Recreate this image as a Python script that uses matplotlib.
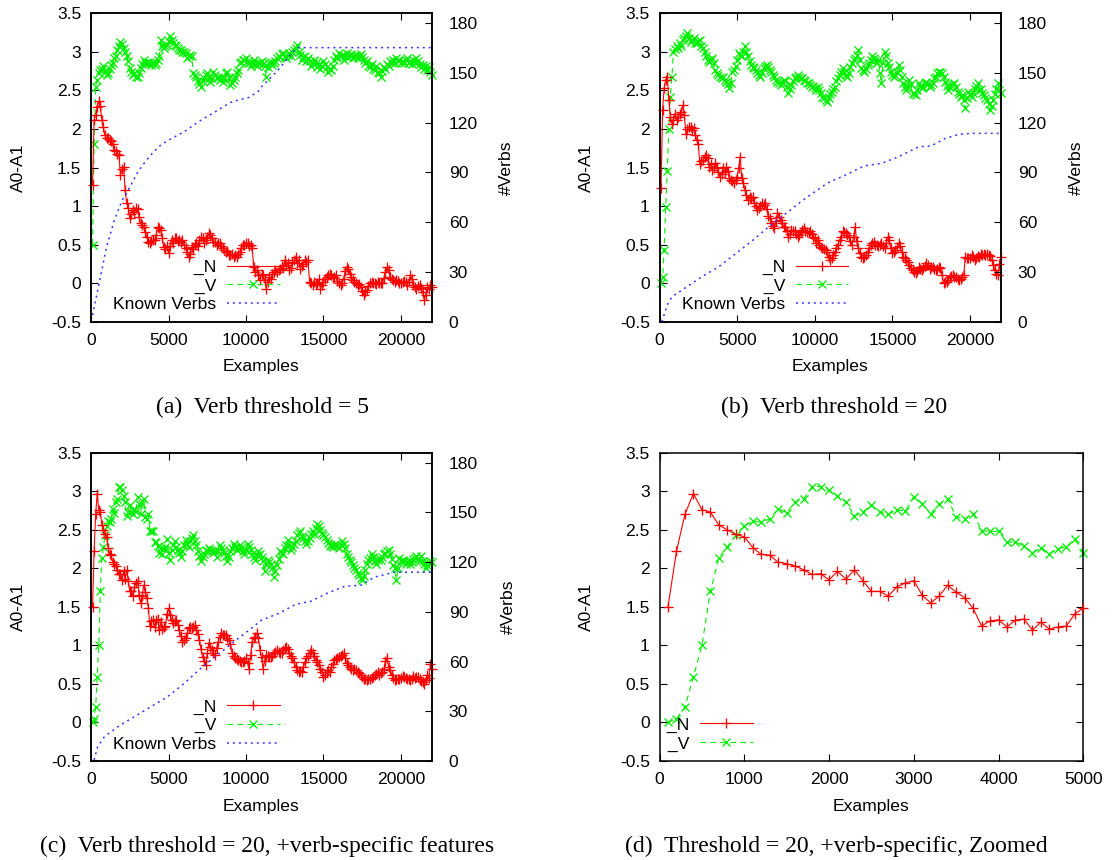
import numpy as np
import matplotlib
matplotlib.use("Agg")
import matplotlib.pyplot as plt
from matplotlib.ticker import FixedLocator, FixedFormatter

plt.rcParams['font.family'] = ['Liberation Sans', 'DejaVu Sans']

# ---------------- data ----------------
examples = np.arange(100, 22001, 100)

a_n = [1.27, 2.12, 2.18, 2.29, 2.36, 2.30, 2.12, 2.02, 1.92, 1.88,
       1.88, 1.86, 1.84, 1.80, 1.73, 1.72, 1.68, 1.66, 1.40, 1.48,
       1.51, 1.21, 1.04, 0.98, 0.84, 0.90, 0.95, 0.92, 0.98, 0.96,
       0.86, 0.78, 0.76, 0.73, 0.66, 0.60, 0.54, 0.52, 0.55, 0.56,
       0.56, 0.62, 0.73, 0.72, 0.69, 0.58, 0.47, 0.44, 0.48, 0.39,
       0.48, 0.56, 0.52, 0.58, 0.58, 0.55, 0.56, 0.54, 0.56, 0.50,
       0.45, 0.40, 0.34, 0.38, 0.47, 0.44, 0.50, 0.52, 0.48, 0.56,
       0.60, 0.58, 0.52, 0.56, 0.60, 0.65, 0.62, 0.58, 0.54, 0.54,
       0.50, 0.52, 0.52, 0.48, 0.45, 0.43, 0.40, 0.42, 0.36, 0.36,
       0.38, 0.34, 0.36, 0.34, 0.38, 0.41, 0.45, 0.49, 0.50, 0.52,
       0.52, 0.48, 0.50, 0.45, 0.21, 0.15, 0.17, 0.10, 0.04, 0.12,
       0.10, 0.04, -0.07, 0.02, 0.08, 0.06, 0.12, 0.14, 0.17, 0.15,
       0.17, 0.18, 0.22, 0.20, 0.30, 0.24, 0.26, 0.17, 0.20, 0.28,
       0.30, 0.34, 0.26, 0.30, 0.19, 0.22, 0.25, 0.30, 0.28, 0.30,
       0.02, 0.00, -0.02, 0.02, -0.01, 0.00, 0.05, -0.07, -0.03, 0.02,
       0.05, 0.08, 0.10, 0.12, 0.10, 0.07, 0.08, 0.10, 0.03, 0.00,
       -0.03, 0.00, 0.06, 0.16, 0.21, 0.19, 0.12, 0.08, 0.04, 0.02,
       0.00, -0.03, -0.01, -0.05, -0.10, -0.16, -0.12, -0.09, -0.04, 0.00,
       0.02, 0.00, 0.00, -0.01, 0.02, 0.00, 0.00, 0.00, 0.07, 0.14,
       0.21, 0.17, 0.08, 0.06, 0.04, 0.02, 0.04, 0.03, 0.00, 0.00,
       0.01, 0.03, 0.02, -0.02, 0.02, 0.10, 0.06, -0.02, -0.05, -0.08,
       -0.04, -0.02, -0.06, -0.12, -0.22, -0.15, -0.05, -0.08, -0.03, -0.05]

a_v = [0.50, 1.81, 2.54, 2.64, 2.72, 2.76, 2.78, 2.81, 2.74, 2.70,
       2.72, 2.78, 2.83, 2.86, 2.92, 2.95, 3.02, 3.08, 3.13, 3.10,
       3.05, 3.00, 2.94, 2.88, 2.79, 2.74, 2.70, 2.72, 2.68, 2.68,
       2.72, 2.79, 2.84, 2.89, 2.85, 2.85, 2.87, 2.86, 2.83, 2.85,
       2.83, 2.86, 2.89, 2.95, 3.15, 3.08, 3.05, 3.07, 3.09, 3.14,
       3.20, 3.15, 3.11, 3.09, 3.07, 3.05, 3.03, 3.02, 3.00, 3.00,
       2.98, 2.92, 2.95, 2.96, 2.94, 2.72, 2.70, 2.68, 2.62, 2.58,
       2.55, 2.62, 2.66, 2.70, 2.72, 2.66, 2.61, 2.66, 2.74, 2.70,
       2.66, 2.68, 2.64, 2.68, 2.61, 2.66, 2.72, 2.74, 2.66, 2.57,
       2.60, 2.64, 2.68, 2.72, 2.76, 2.85, 2.87, 2.89, 2.90, 2.92,
       2.88, 2.86, 2.82, 2.85, 2.89, 2.84, 2.82, 2.86, 2.85, 2.88,
       2.84, 2.82, 2.68, 2.80, 2.85, 2.87, 2.83, 2.86, 2.88, 2.92,
       2.95, 2.93, 2.97, 2.99, 2.95, 2.92, 2.96, 2.98, 2.94, 3.00,
       3.02, 3.05, 3.09, 3.00, 2.96, 2.90, 2.93, 2.95, 2.88, 2.92,
       2.88, 2.82, 2.85, 2.90, 2.86, 2.80, 2.84, 2.78, 2.82, 2.88,
       2.84, 2.80, 2.74, 2.78, 2.76, 2.82, 2.90, 2.95, 2.92, 2.98,
       2.94, 2.96, 2.90, 2.94, 2.98, 2.93, 2.95, 2.97, 2.92, 2.95,
       2.96, 2.92, 2.94, 2.97, 2.93, 2.90, 2.85, 2.88, 2.82, 2.80,
       2.84, 2.78, 2.76, 2.82, 2.74, 2.72, 2.68, 2.75, 2.80, 2.78,
       2.84, 2.82, 2.88, 2.85, 2.90, 2.86, 2.92, 2.88, 2.90, 2.86,
       2.88, 2.85, 2.90, 2.92, 2.86, 2.88, 2.84, 2.89, 2.86, 2.92,
       2.88, 2.84, 2.80, 2.83, 2.78, 2.82, 2.76, 2.80, 2.74, 2.70]

b_n = [1.23, 2.25, 2.53, 2.64, 2.68, 2.38, 2.16, 2.07, 2.12, 2.20,
       2.12, 2.16, 2.20, 2.22, 2.31, 2.18, 1.94, 2.00, 2.03, 2.03,
       1.99, 2.01, 1.92, 1.86, 1.80, 1.55, 1.58, 1.60, 1.64, 1.66,
       1.62, 1.51, 1.55, 1.47, 1.50, 1.56, 1.51, 1.44, 1.38, 1.42,
       1.49, 1.44, 1.51, 1.46, 1.36, 1.34, 1.32, 1.30, 1.34, 1.38,
       1.50, 1.64, 1.36, 1.30, 1.21, 1.14, 1.08, 1.12, 1.10, 1.12,
       1.04, 1.00, 0.95, 0.98, 1.00, 1.04, 1.02, 1.04, 0.96, 0.87,
       0.84, 0.78, 0.74, 0.71, 0.80, 0.91, 0.86, 0.82, 0.78, 0.73,
       0.73, 0.68, 0.60, 0.64, 0.69, 0.68, 0.67, 0.64, 0.60, 0.62,
       0.66, 0.69, 0.72, 0.67, 0.66, 0.65, 0.68, 0.64, 0.60, 0.58,
       0.52, 0.56, 0.49, 0.47, 0.45, 0.44, 0.43, 0.40, 0.34, 0.30,
       0.33, 0.36, 0.40, 0.45, 0.50, 0.56, 0.60, 0.67, 0.66, 0.65,
       0.63, 0.60, 0.55, 0.49, 0.60, 0.73, 0.55, 0.45, 0.39, 0.34,
       0.32, 0.34, 0.36, 0.40, 0.45, 0.49, 0.52, 0.54, 0.50, 0.49,
       0.48, 0.50, 0.52, 0.48, 0.45, 0.52, 0.60, 0.56, 0.45, 0.39,
       0.41, 0.43, 0.47, 0.52, 0.48, 0.40, 0.34, 0.32, 0.30, 0.28,
       0.24, 0.20, 0.17, 0.15, 0.13, 0.16, 0.21, 0.19, 0.17, 0.20,
       0.22, 0.26, 0.23, 0.19, 0.21, 0.21, 0.19, 0.17, 0.19, 0.21,
       0.20, 0.10, 0.00, 0.01, 0.02, 0.04, 0.08, 0.09, 0.10, 0.08,
       0.08, 0.05, 0.04, 0.06, 0.08, 0.10, 0.34, 0.32, 0.33, 0.32,
       0.36, 0.34, 0.30, 0.32, 0.35, 0.34, 0.38, 0.37, 0.38, 0.36,
       0.38, 0.37, 0.35, 0.30, 0.24, 0.17, 0.12, 0.10, 0.25, 0.34]

b_v = [0.00, 0.08, 0.43, 0.99, 1.45, 2.00, 2.42, 2.68, 3.00, 3.04,
       3.07, 3.05, 3.11, 3.08, 3.15, 3.18, 3.20, 3.24, 3.18, 3.13,
       3.16, 3.18, 3.12, 3.11, 3.14, 3.15, 3.08, 3.05, 3.00, 2.94,
       2.90, 2.87, 2.90, 2.92, 2.85, 2.76, 2.72, 2.70, 2.68, 2.66,
       2.68, 2.64, 2.61, 2.58, 2.53, 2.60, 2.74, 2.76, 2.81, 2.90,
       2.98, 2.96, 2.94, 3.00, 3.07, 3.00, 2.94, 2.88, 2.83, 2.80,
       2.79, 2.76, 2.72, 2.70, 2.68, 2.72, 2.79, 2.82, 2.83, 2.80,
       2.76, 2.74, 2.70, 2.68, 2.64, 2.61, 2.60, 2.57, 2.60, 2.64,
       2.62, 2.55, 2.46, 2.52, 2.57, 2.62, 2.66, 2.68, 2.70, 2.68,
       2.66, 2.66, 2.64, 2.62, 2.60, 2.59, 2.57, 2.55, 2.56, 2.53,
       2.51, 2.55, 2.50, 2.46, 2.42, 2.40, 2.38, 2.35, 2.40, 2.45,
       2.48, 2.52, 2.55, 2.62, 2.66, 2.70, 2.74, 2.79, 2.74, 2.70,
       2.68, 2.72, 2.80, 2.86, 2.89, 2.92, 2.96, 3.02, 2.90, 2.79,
       2.76, 2.74, 2.78, 2.83, 2.86, 2.90, 2.94, 2.92, 2.89, 2.85,
       2.89, 2.72, 2.59, 2.86, 3.00, 2.94, 2.85, 2.80, 2.74, 2.70,
       2.68, 2.70, 2.74, 2.83, 2.76, 2.68, 2.59, 2.55, 2.51, 2.56,
       2.64, 2.58, 2.46, 2.45, 2.44, 2.50, 2.59, 2.56, 2.53, 2.55,
       2.60, 2.61, 2.58, 2.55, 2.57, 2.60, 2.66, 2.68, 2.72, 2.74,
       2.74, 2.72, 2.68, 2.61, 2.56, 2.51, 2.54, 2.57, 2.58, 2.59,
       2.55, 2.48, 2.45, 2.42, 2.44, 2.38, 2.27, 2.40, 2.48, 2.45,
       2.42, 2.46, 2.52, 2.56, 2.59, 2.50, 2.52, 2.46, 2.44, 2.40,
       2.38, 2.32, 2.25, 2.30, 2.37, 2.45, 2.52, 2.59, 2.50, 2.46]

c_n = [1.50, 2.22, 2.70, 2.97, 2.76, 2.73, 2.56, 2.50, 2.44, 2.41,
       2.27, 2.18, 2.17, 2.08, 2.06, 2.03, 1.98, 1.92, 1.93, 1.85,
       1.96, 1.86, 1.98, 1.84, 1.70, 1.70, 1.64, 1.76, 1.81, 1.84,
       1.65, 1.55, 1.64, 1.78, 1.69, 1.62, 1.48, 1.25, 1.32, 1.33,
       1.24, 1.33, 1.34, 1.20, 1.30, 1.21, 1.24, 1.25, 1.41, 1.48,
       1.39, 1.33, 1.29, 1.31, 1.33, 1.27, 1.20, 1.12, 1.05, 1.07,
       1.09, 1.16, 1.22, 1.24, 1.22, 1.24, 1.26, 1.20, 1.15, 1.07,
       0.95, 0.85, 0.80, 0.75, 0.90, 1.03, 0.98, 0.94, 0.90, 0.88,
       0.96, 1.05, 1.11, 1.16, 1.13, 1.14, 1.13, 1.10, 1.07, 1.02,
       0.90, 0.86, 0.83, 0.82, 0.81, 0.80, 0.79, 0.79, 0.80, 0.83,
       0.77, 0.70, 0.88, 1.05, 1.10, 1.11, 1.16, 1.10, 0.94, 0.85,
       0.70, 0.80, 0.88, 0.86, 0.85, 0.85, 0.86, 0.90, 0.92, 0.94,
       0.92, 0.90, 0.90, 0.94, 0.96, 0.98, 0.95, 0.90, 0.86, 0.83,
       0.78, 0.72, 0.68, 0.66, 0.67, 0.66, 0.72, 0.78, 0.83, 0.86,
       0.90, 0.94, 0.90, 0.86, 0.81, 0.78, 0.74, 0.70, 0.66, 0.59,
       0.62, 0.65, 0.68, 0.66, 0.72, 0.76, 0.81, 0.82, 0.84, 0.85,
       0.86, 0.88, 0.90, 0.84, 0.77, 0.74, 0.72, 0.70, 0.68, 0.70,
       0.68, 0.66, 0.64, 0.62, 0.59, 0.57, 0.56, 0.55, 0.57, 0.56,
       0.58, 0.59, 0.61, 0.63, 0.66, 0.62, 0.64, 0.65, 0.70, 0.80,
       0.83, 0.72, 0.68, 0.62, 0.58, 0.55, 0.56, 0.57, 0.56, 0.58,
       0.60, 0.59, 0.58, 0.56, 0.57, 0.55, 0.57, 0.60, 0.58, 0.59,
       0.59, 0.56, 0.54, 0.52, 0.50, 0.55, 0.62, 0.58, 0.76, 0.70]

c_v = [0.00, 0.05, 0.20, 0.59, 1.00, 1.70, 2.14, 2.28, 2.43, 2.55,
       2.61, 2.60, 2.64, 2.77, 2.72, 2.86, 2.90, 3.06, 3.06, 3.01,
       2.94, 2.86, 2.68, 2.73, 2.82, 2.73, 2.70, 2.76, 2.74, 2.93,
       2.84, 2.71, 2.83, 2.90, 2.67, 2.64, 2.71, 2.49, 2.48, 2.48,
       2.34, 2.34, 2.29, 2.20, 2.27, 2.19, 2.25, 2.28, 2.38, 2.20,
       2.11, 2.24, 2.30, 2.35, 2.28, 2.24, 2.20, 2.15, 2.22, 2.30,
       2.37, 2.32, 2.28, 2.35, 2.39, 2.43, 2.36, 2.30, 2.22, 2.16,
       2.09, 2.15, 2.19, 2.24, 2.22, 2.26, 2.24, 2.22, 2.20, 2.22,
       2.15, 2.22, 2.30, 2.26, 2.24, 2.20, 2.16, 2.09, 2.15, 2.22,
       2.26, 2.32, 2.28, 2.24, 2.27, 2.30, 2.26, 2.22, 2.19, 2.24,
       2.32, 2.28, 2.24, 2.19, 2.15, 2.11, 2.17, 2.22, 2.18, 2.15,
       2.10, 1.96, 2.05, 2.11, 2.08, 2.06, 2.00, 1.89, 1.96, 2.04,
       2.12, 2.22, 2.20, 2.19, 2.26, 2.30, 2.37, 2.30, 2.24, 2.28,
       2.32, 2.36, 2.43, 2.46, 2.48, 2.42, 2.39, 2.35, 2.32, 2.36,
       2.39, 2.44, 2.48, 2.45, 2.52, 2.58, 2.55, 2.50, 2.46, 2.43,
       2.40, 2.37, 2.33, 2.30, 2.29, 2.28, 2.30, 2.32, 2.29, 2.26,
       2.30, 2.35, 2.32, 2.26, 2.19, 2.15, 2.11, 2.08, 2.04, 2.01,
       1.98, 1.94, 1.91, 1.88, 1.85, 1.90, 1.98, 2.05, 2.11, 2.14,
       2.19, 2.15, 2.10, 2.06, 2.11, 2.13, 2.11, 2.15, 2.18, 2.20,
       2.22, 2.24, 2.19, 2.12, 2.04, 2.00, 1.85, 2.00, 2.13, 2.10,
       2.11, 2.09, 2.06, 2.08, 2.10, 2.06, 2.08, 2.12, 2.14, 2.16,
       2.12, 2.10, 2.16, 2.10, 2.05, 2.00, 2.04, 2.06, 2.10, 2.08]

# zoomed panel (d): first 5000 examples of panel (c)
d_count = 50

known_a_x = [100, 500, 1000, 1500, 2000, 2500, 3000, 3500, 4000, 4500, 5000,
             6000, 7000, 8000, 8600, 9100, 10200, 10800, 11000, 12000, 13100,
             13400, 22000]
known_a_y = [4, 22, 45, 61, 73, 81, 90, 96.5, 102, 106.5, 109.5,
             114.5, 121, 126.5, 130, 132.7, 135.3, 139, 141.7, 151, 163.5,
             165.3, 165.3]

known_b_x = [150, 500, 800, 1600, 2700, 3800, 4900, 6000, 7000, 8100, 9200,
             10100, 10900, 12000, 13200, 14300, 15400, 16700, 17500, 18400,
             19300, 20100, 22000]
known_b_y = [0, 10, 15, 20, 27, 33, 41, 49, 57, 65, 73,
             79, 84, 88.5, 94, 95.5, 99.5, 105.5, 106, 110.5,
             113, 113.6, 113.6]

known_c_x = [200, 430, 860, 1720, 2790, 3860, 4940, 6010, 7080, 8160, 9230,
             10200, 11000, 12100, 13200, 14200, 15300, 16400, 17400, 18300,
             19600, 22000]
known_c_y = [0.6, 8.6, 14.6, 20.6, 26.7, 32.7, 38.8, 46.8, 55.9, 64, 72,
             79, 85, 89, 94.5, 96.4, 101.5, 105.5, 106, 111,
             113.9, 113.9]

y_ticks = [-0.5, 0, 0.5, 1, 1.5, 2, 2.5, 3, 3.5]
y_tick_labels = ['-0.5', '0', '0.5', '1', '1.5', '2', '2.5', '3', '3.5']
x_ticks_full = [0, 5000, 10000, 15000, 20000]
x_ticks_zoom = [0, 1000, 2000, 3000, 4000, 5000]
y2_ticks = [0, 30, 60, 90, 120, 150, 180]

captions = ['(a)  Verb threshold = 5',
            '(b)  Verb threshold = 20',
            '(c)  Verb threshold = 20, +verb-specific features',
            '(d)  Threshold = 20, +verb-specific, Zoomed']

for arr in (a_n, a_v, b_n, b_v, c_n, c_v):
    assert len(arr) == len(examples), len(arr)

# ---------------- styling ----------------
RED = '#ff0000'
GREEN = '#00ee00'
BLUE = '#3333ff'
FS = 12.6
W, H = 1112.0, 860.0

fig = plt.figure(figsize=(11.12, 8.6), dpi=100)
fig.patch.set_facecolor('white')


def rect(l, r, t, b):
    return [l / W, 1 - b / H, (r - l) / W, (b - t) / H]


def style(ax, right_mirror):
    ax.tick_params(axis='both', which='both', direction='in', length=5.2,
                   width=0.8, labelsize=FS, top=True, right=right_mirror,
                   colors='black')
    ax.tick_params(axis='y', pad=7)
    ax.tick_params(axis='x', pad=8)
    for s in ax.spines.values():
        s.set_linewidth(1.1)


def make_panel(r, n, v, xmax, xticks, kx=None, ky=None, leg_anchor=None,
               ylab_x=-0.19, y2lab_x=1.197):
    ax = fig.add_axes(r)
    x = examples[:len(n)]
    hn, = ax.plot(x, n, color=RED, lw=0.8, marker='+', ms=6.5, mew=0.95,
                  clip_on=False, zorder=3)
    hv, = ax.plot(x, v, color=GREEN, lw=0.8, ls=(0, (5, 4)), marker='x',
                  ms=5.6, mew=0.95, clip_on=False, zorder=2)
    ax.set_xlim(0, xmax)
    ax.set_ylim(-0.5, 3.5)
    ax.xaxis.set_major_locator(FixedLocator(xticks))
    ax.set_xticklabels([str(t) for t in xticks])
    ax.yaxis.set_major_locator(FixedLocator(y_ticks))
    ax.yaxis.set_major_formatter(FixedFormatter(y_tick_labels))
    ax.set_ylabel('A0-A1', fontsize=FS)
    ax.yaxis.set_label_coords(ylab_x, 0.5)
    ax.set_xlabel('Examples', fontsize=FS)
    ax.xaxis.set_label_coords(0.5, -0.122)
    handles = [hn, hv]
    labels = [' _N', ' _V']
    leg_ax = ax
    if kx is not None:
        style(ax, False)
        ax2 = ax.twinx()
        hk, = ax2.plot(kx, ky, color=BLUE, lw=1.1, ls=(0, (1.3, 2.6)))
        ax2.set_ylim(0, 186)
        ax2.yaxis.set_major_locator(FixedLocator(y2_ticks))
        ax2.set_yticklabels([str(t) for t in y2_ticks])
        ax2.tick_params(axis='y', direction='in', length=5.2, width=0.8,
                        labelsize=FS, pad=12)
        for s in ax2.spines.values():
            s.set_linewidth(1.1)
        ax2.set_ylabel('#Verbs', fontsize=FS)
        ax2.yaxis.set_label_coords(y2lab_x, 0.5)
        handles.append(hk)
        labels.append('Known Verbs')
        leg_ax = ax2
    else:
        style(ax, True)
    leg_ax.legend(handles, labels, loc='center right',
                  bbox_to_anchor=leg_anchor, frameon=False,
                  markerfirst=False, numpoints=1, fontsize=FS,
                  handlelength=3.0, handletextpad=0.62,
                  labelspacing=0.2, borderpad=0, borderaxespad=0)
    return ax


make_panel(rect(91, 432, 13.3, 321.7), a_n, a_v, 22000, x_ticks_full,
           known_a_x, known_a_y, leg_anchor=(0.553, 0.116))
make_panel(rect(659.5, 1001, 13.3, 321.7), b_n, b_v, 22000, x_ticks_full,
           known_b_x, known_b_y, leg_anchor=(0.553, 0.116),
           ylab_x=-0.192, y2lab_x=1.2)
make_panel(rect(91, 432, 452.7, 761), c_n, c_v, 22000, x_ticks_full,
           known_c_x, known_c_y, leg_anchor=(0.553, 0.1145), y2lab_x=1.202)
make_panel(rect(659.5, 1083.3, 452.7, 761), c_n[:d_count], c_v[:d_count],
           5000, x_ticks_zoom, leg_anchor=(0.22, 0.086), ylab_x=-0.155)

serif = ['Liberation Serif', 'DejaVu Serif']
cap_pos = [(262, 407.4), (834, 407.4), (267, 846.7), (836, 846.7)]
for (cx, cy), txt in zip(cap_pos, captions):
    fig.text(cx / W, 1 - cy / H, txt, ha='center', va='center',
             fontsize=17, family=serif)

fig.savefig('out.png', dpi=100, facecolor='white')
